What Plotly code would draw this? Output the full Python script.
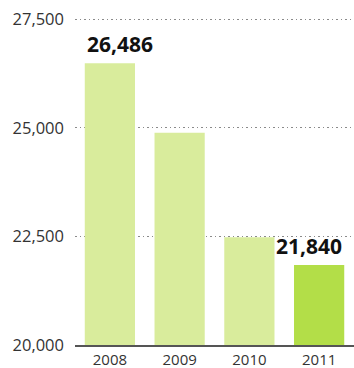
import plotly.graph_objects as go

years = ["2008", "2009", "2010", "2011"]
values = [26486, 24890, 22480, 21840]
bar_colors = ["#d9ec9c", "#d9ec9c", "#d9ec9c", "#b3de48"]
labeled = {"2008": "26,486", "2011": "21,840"}
y_ticks = [20000, 22500, 25000, 27500]
y_tick_text = ["20,000", "22,500", "25,000", "27,500"]

xpos = list(range(len(years)))

fig = go.Figure()
fig.add_trace(go.Bar(x=xpos, y=values, width=0.72,
                     marker=dict(color=bar_colors, line=dict(width=0)),
                     hoverinfo="skip"))

for yr, txt in labeled.items():
    idx = years.index(yr)
    anchor = "left" if idx == 0 else "right"
    fig.add_annotation(x=idx - 0.36 if idx == 0 else idx + 0.36, y=values[idx],
                       text="<b>" + txt + "</b>", showarrow=False,
                       xanchor=anchor, yanchor="bottom", yshift=3,
                       font=dict(family="Open Sans", size=21, color="#111111"))

fig.update_layout(
    width=354, height=368,
    margin=dict(l=75, r=0, t=15, b=23),
    paper_bgcolor="white", plot_bgcolor="white",
    showlegend=False,
    font=dict(family="Open Sans", color="#333333"),
)
fig.update_xaxes(range=[-0.5, 3.5], tickvals=xpos, ticktext=years, automargin=False,
                 showgrid=False, zeroline=False, showline=True, linecolor="#555555",
                 linewidth=2, ticks="", ticklabelstandoff=0,
                 tickfont=dict(size=15, color="#333333"))
fig.update_yaxes(range=[20000, 27600], tickvals=y_ticks, ticktext=y_tick_text,
                 automargin=False,
                 showgrid=True, gridcolor="#8a8a8a", griddash="1.5px,3px", gridwidth=1,
                 zeroline=False, showline=False, ticks="", ticklabelstandoff=10,
                 tickfont=dict(size=16.5, color="#333333"))

fig.write_html("out.html")
